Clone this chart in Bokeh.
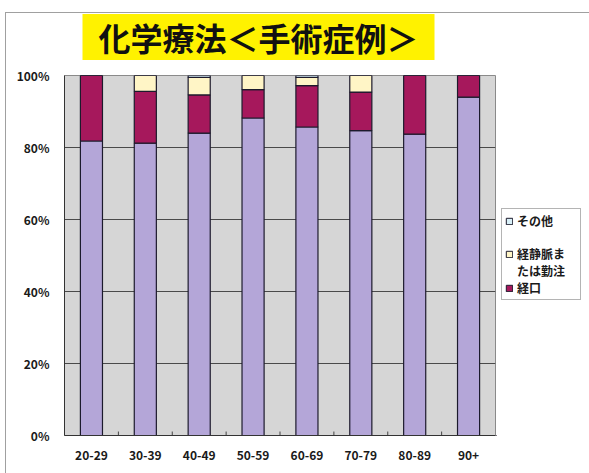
from bokeh.plotting import figure
from bokeh.layouts import row
from bokeh.models import (ColumnDataSource, FactorRange, Range1d, Legend, LegendItem,
                          PrintfTickFormatter, FixedTicker)
from bokeh.transform import dodge
from bokeh.embed import file_html
from bokeh.resources import INLINE

# ---- data -------------------------------------------------------------
title_text = "化学療法＜手術症例＞"
age_groups = ["20-29", "30-39", "40-49", "50-59", "60-69", "70-79", "80-89", "90+"]
# percentages, stacked bottom -> top
none_pct  = [81.8, 81.2, 84.0, 88.2, 85.7, 84.7, 83.7, 94.0]   # bottom (purple, no legend entry)
oral_pct  = [18.2, 14.4, 10.6,  7.9, 11.5, 10.7, 16.3,  6.0]   # 経口
iv_pct    = [ 0.0,  4.4,  4.9,  3.9,  2.3,  4.6,  0.0,  0.0]   # 経静脈または勤注
other_pct = [ 0.0,  0.0,  0.5,  0.0,  0.5,  0.0,  0.0,  0.0]   # その他
# legend text as shown (the long label wraps onto two lines)
legend_other = "その他"
legend_iv_lines = ["経静脈ま", "たは勤注"]
legend_oral = "経口"
y_ticks = [0, 20, 40, 60, 80, 100]

colors = {"none": "#b4a6d8", "oral": "#a6185c", "iv": "#fff5c6", "other": "#d8f0f8"}
FONT = "Noto Sans CJK JP"
EDGE = "#1c1a2c"

src = ColumnDataSource(dict(age=age_groups, none=none_pct, oral=oral_pct,
                            iv=iv_pct, other=other_pct))

# ---- main chart -------------------------------------------------------
p = figure(x_range=FactorRange(*age_groups), y_range=Range1d(0, 100),
           width=496, height=473, output_backend="svg", toolbar_location=None,
           min_border_left=64, min_border_right=1, min_border_top=75,
           min_border_bottom=38)
p.border_fill_color = None
p.background_fill_color = "#d6d6d6"
p.outline_line_color = "#8a8a8a"

p.vbar_stack(["none", "oral", "iv", "other"], x="age", width=0.41, source=src,
             fill_color=[colors[k] for k in ["none", "oral", "iv", "other"]],
             line_color=EDGE, line_width=1.2)

# small boundary tick marks on the category axis
bsrc = ColumnDataSource(dict(age=age_groups[1:]))
p.segment(x0=dodge("age", -0.5, range=p.x_range), x1=dodge("age", -0.5, range=p.x_range),
          y0=0, y1=1.1, source=bsrc, line_color="#444", line_width=1)

p.xgrid.grid_line_color = None
p.ygrid.ticker = FixedTicker(ticks=y_ticks)
p.ygrid.grid_line_color = "#4a4a4a"
p.ygrid.grid_line_width = 1

p.yaxis.ticker = FixedTicker(ticks=y_ticks)
p.yaxis.formatter = PrintfTickFormatter(format="%d%%")
for ax in (p.xaxis[0], p.yaxis[0]):
    ax.major_tick_line_color = None
    ax.minor_tick_line_color = None
    ax.axis_line_color = "#333333"
    ax.major_label_text_font = FONT
    ax.major_label_text_font_size = "12px"
    ax.major_label_text_font_style = "bold"
    ax.major_label_text_color = "#1a1a1a"
p.yaxis.major_label_standoff = 9
p.xaxis.major_label_standoff = 9

# title in a yellow box
p.title.text = title_text
p.title.align = "left"
p.title.vertical_align = "top"
p.title.offset = 18
p.title.text_font = FONT
p.title.text_font_size = "32px"
p.title.text_font_style = "bold"
p.title.text_color = "#111111"
p.title.background_fill_color = "#fff200"
p.title.padding = (16, 16, 0, 0)
p.title.standoff = 27

# ---- legend panel (separate small figure) --------------------------------
lf = figure(width=93, height=473, output_backend="svg", toolbar_location=None,
            x_axis_type=None, y_axis_type=None, x_range=Range1d(0, 1),
            y_range=Range1d(0, 1), min_border=0)
lf.border_fill_color = None
lf.background_fill_color = None
lf.outline_line_color = None
lf.grid.visible = False

# off-screen proxy renderers that only supply the legend swatches
proxy = ColumnDataSource(dict(x=[-50.0], top=[-1.0], bottom=[-2.0]))
lr_other = lf.vbar(x="x", top="top", bottom="bottom", width=0.1, source=proxy,
                   fill_color=colors["other"], line_color=EDGE)
lr_iv = lf.vbar(x="x", top="top", bottom="bottom", width=0.1, source=proxy,
                fill_color=colors["iv"], line_color=EDGE)
lr_oral = lf.vbar(x="x", top="top", bottom="bottom", width=0.1, source=proxy,
                  fill_color=colors["oral"], line_color=EDGE)
lr_blank = lf.vbar(x="x", top="top", bottom="bottom", width=0.1, source=proxy,
                   fill_alpha=0, line_alpha=0)

legend = Legend(items=[LegendItem(label=legend_other, renderers=[lr_other]),
                       LegendItem(label=" ", renderers=[lr_blank]),
                       LegendItem(label=legend_iv_lines[0], renderers=[lr_iv]),
                       LegendItem(label=legend_iv_lines[1], renderers=[lr_blank]),
                       LegendItem(label=legend_oral, renderers=[lr_oral])],
                location=(5, 135))
legend.border_line_color = "#6a6a6a"
legend.background_fill_color = "white"
legend.label_text_font = FONT
legend.label_text_font_size = "12px"
legend.label_text_font_style = "bold"
legend.label_text_color = "#1a1a1a"
legend.label_height = 16
legend.label_width = 60
legend.glyph_width = 8
legend.glyph_height = 8
legend.label_standoff = 4
legend.spacing = 0
legend.padding = 3
legend.margin = 0
lf.add_layout(legend, "center")

layout = row(p, lf, spacing=0)
# outer thin frame (shows through the transparent canvas border areas)
layout.styles = {
    "background": ("linear-gradient(#a0a0a0,#a0a0a0) no-repeat 5px 12px / 1px 100%, "
                   "linear-gradient(#a0a0a0,#a0a0a0) no-repeat 5px 12px / 100% 1px, white"),
}

open("out.html", "w").write(file_html(layout, INLINE))
